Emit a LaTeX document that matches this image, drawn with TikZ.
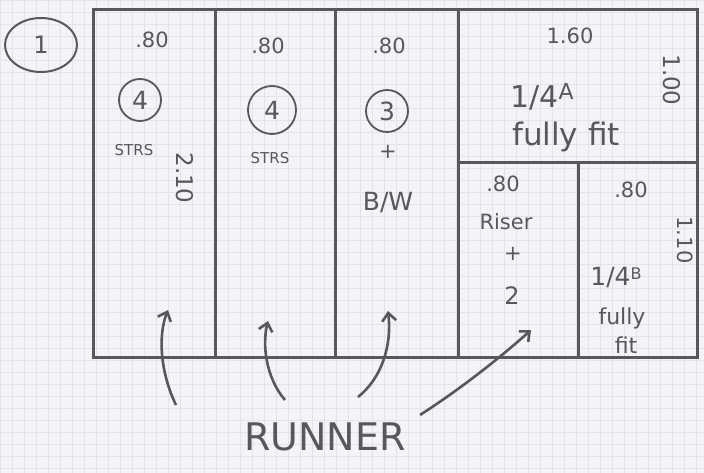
\documentclass[tikz,border=0pt]{standalone}
\usepackage{fontspec}
\setmainfont{DejaVu Sans}
\usetikzlibrary{arrows.meta,shapes.geometric}
\definecolor{pencil}{HTML}{585858}
\definecolor{paper}{HTML}{F5F3F8}
\definecolor{gridc}{HTML}{E4E2EA}
\begin{document}
\begin{tikzpicture}[x=1pt,y=-1pt,
  wall/.style={draw=pencil,line width=3pt},
  lbl/.style={text=pencil,font=\fontsize{21}{21}\selectfont,inner sep=1pt},
  vlbl/.style={text=pencil,font=\fontsize{23}{23}\selectfont,inner sep=1pt,rotate=-90},
  small/.style={text=pencil,font=\fontsize{15}{15}\selectfont,inner sep=1pt},
  big/.style={text=pencil,font=\fontsize{30}{30}\selectfont,inner sep=1pt},
  ring/.style={draw=pencil,line width=1.8pt,circle,minimum size=42pt,inner sep=0pt,text=pencil,font=\fontsize{25}{25}\selectfont},
  arr/.style={draw=pencil,line width=2.6pt,-{Straight Barb[length=8pt,width=14pt,line width=2.6pt]}}]
\useasboundingbox (0,0) rectangle (704,473);
\fill[paper] (0,0) rectangle (704,473);
\foreach \gx in {0,12,...,704} \draw[gridc,line width=0.4pt] (\gx,0) -- (\gx,473);
\foreach \gy in {0,12,...,473} \draw[gridc,line width=0.4pt] (0,\gy) -- (704,\gy);
% outline
\draw[wall] (93,10) rectangle (697,357);
\draw[wall] (215,10) -- (215,357);
\draw[wall] (335,10) -- (335,357);
\draw[wall] (458,10) -- (458,357);
\draw[wall] (458,163) -- (697,163);
\draw[wall] (578,163) -- (578,357);
% sheet number
\node[draw=pencil,line width=2pt,ellipse,minimum width=72pt,minimum height=54pt,text=pencil,font=\fontsize{24}{24}\selectfont] (one) at (41,45) {1};
% cell 1
\node[lbl] (w1) at (152,40) {.80};
\node[ring] (c1) at (140,100) {4};
\node[small] (s1) at (134,150) {STRS};
\node[vlbl] (h1) at (185,178) {2.10};
% cell 2
\node[lbl] (w2) at (268,46) {.80};
\node[ring,minimum size=48pt] (c2) at (272,110) {4};
\node[small] (s2) at (270,158) {STRS};
% cell 3
\node[lbl] (w3) at (389,46) {.80};
\node[ring] (c3) at (387,111) {3};
\node[lbl] (p3) at (388,152) {+};
\node[lbl,font=\fontsize{25}{25}\selectfont] (b3) at (388,203) {B/W};
% top right
\node[lbl] (w4) at (570,36) {1.60};
\node[big] (q4) at (542,97) {1/4\raisebox{8pt}{\fontsize{22}{22}\selectfont A}};
\node[big,font=\fontsize{31}{31}\selectfont] (f4) at (566,137) {fully fit};
\node[vlbl] (h4) at (672,80) {1.00};
% riser cell
\node[lbl] (w5) at (503,184) {.80};
\node[lbl] (r5) at (506,222) {Riser};
\node[lbl] (p5) at (513,254) {+};
\node[lbl,font=\fontsize{24}{24}\selectfont] (n5) at (512,296) {2};
% bottom right
\node[big,font=\fontsize{25}{25}\selectfont] (q6) at (616,278) {1/4\raisebox{6pt}{\fontsize{16}{16}\selectfont B}};
\node[lbl] (w6) at (631,190) {.80};
\node[lbl,font=\fontsize{22}{22}\selectfont] (f6) at (622,318) {fully};
\node[lbl,font=\fontsize{22}{22}\selectfont] (g6) at (626,345) {fit};
\node[vlbl,font=\fontsize{21}{21}\selectfont] (h6) at (685,240) {1.10};
% runner
\node[big,font=\fontsize{38}{38}\selectfont] (run) at (325,437) {RUNNER};
\coordinate (a1s) at (176,405); \coordinate (a1e) at (168,310);
\coordinate (a2s) at (285,400); \coordinate (a2e) at (268,321);
\coordinate (a3s) at (358,397); \coordinate (a3e) at (388,311);
\coordinate (a4s) at (420,415); \coordinate (a4e) at (531,330);
\draw[arr] (a1s) .. controls (160,372) and (158,335) .. (a1e);
\draw[arr] (a2s) .. controls (266,378) and (262,345) .. (a2e);
\draw[arr] (a3s) .. controls (382,378) and (392,345) .. (a3e);
\draw[arr] (a4s) .. controls (462,388) and (502,356) .. (a4e);
\end{tikzpicture}
\end{document}
